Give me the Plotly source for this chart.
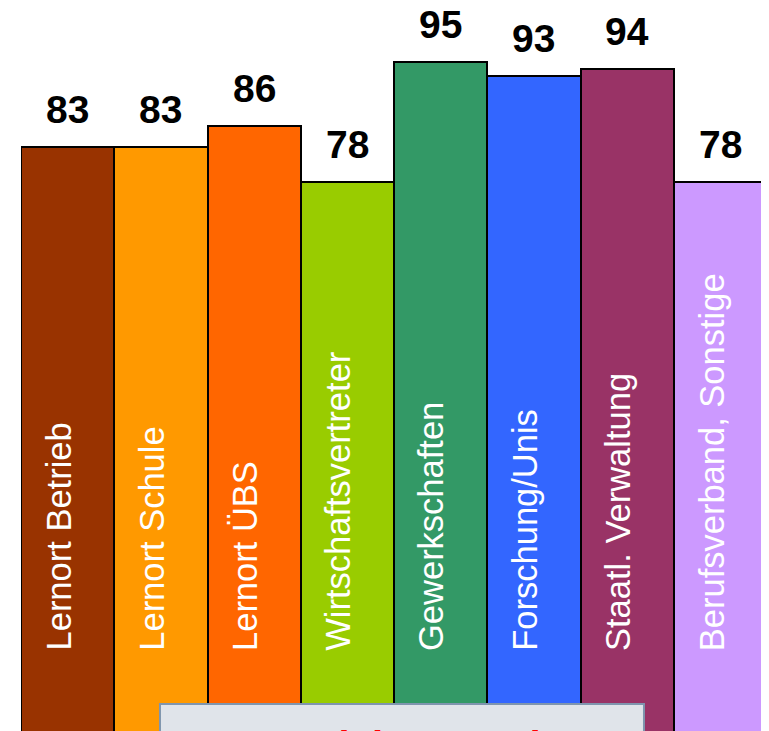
import plotly.graph_objects as go

categories = ["Lernort Betrieb", "Lernort Schule", "Lernort ÜBS", "Wirtschaftsvertreter",
              "Gewerkschaften", "Forschung/Unis", "Staatl. Verwaltung", "Berufsverband, Sonstige"]
values = [83, 83, 86, 78, 95, 93, 94, 78]
colors = ["#993300", "#FF9900", "#FF6600", "#99CC00", "#339966", "#3366FF", "#993366", "#CC99FF"]
box_text = "Ansichten und"

fig = go.Figure()
fig.add_trace(go.Bar(
    x=categories, y=values,
    marker=dict(color=colors, line=dict(color="black", width=2)),
    hoverinfo="skip",
))

font_family = "Arial, Liberation Sans, sans-serif"

for c, v in zip(categories, values):
    fig.add_annotation(x=c, y=v, text="<b>" + str(v) + "</b>", showarrow=False, yanchor="bottom",
                       yshift=14, font=dict(family=font_family, size=39, color="black"),
                       xref="x", yref="y")
    fig.add_annotation(x=c, y=11.3, text=c, showarrow=False, yanchor="bottom",
                       textangle=-90, xshift=-9,
                       font=dict(family=font_family, size=34.5, color="white"),
                       xref="x", yref="y")

fig.add_shape(type="rect", xref="paper", yref="paper",
              x0=0.1863, x1=0.8351, y0=-0.1, y1=0.0373,
              fillcolor="#E0E4EA", line=dict(color="#7F95AE", width=2), layer="above")
fig.add_annotation(xref="paper", yref="paper", x=0.5107, y=0.0125, yanchor="top",
                   text="<b>" + box_text + "</b>", showarrow=False,
                   font=dict(family=font_family, size=40, color="#FF0000"))

fig.update_layout(
    width=761, height=723,
    margin=dict(l=13, r=2, t=0, b=0),
    paper_bgcolor="white", plot_bgcolor="white",
    bargap=0, showlegend=False,
    xaxis=dict(visible=False),
    yaxis=dict(visible=False, range=[0.23, 102.65]),
)

fig.write_html("out.html")
